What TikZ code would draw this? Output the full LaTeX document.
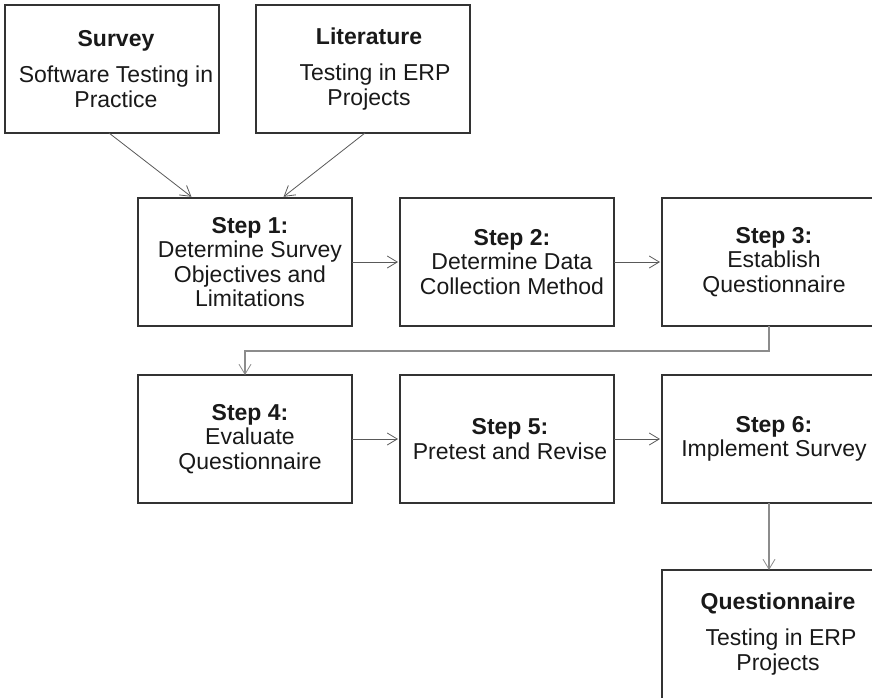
\documentclass[tikz,border=0pt]{standalone}
\usepackage{fontspec}
\setmainfont{Liberation Sans}
\usetikzlibrary{arrows.meta}
\begin{document}
\begin{tikzpicture}[x=1pt,y=-1pt,
  box/.style={draw=black!80, line width=1.2pt, minimum width=214pt, minimum height=128pt,
    inner sep=0pt, outer sep=0pt},
  edgebox/.style={box, minimum width=230pt, anchor=west},
  boxtext/.style={align=center, text=black!90, inner sep=0pt,
    font=\fontsize{23}{24.5}\selectfont},
  flow/.style={draw=black!65, line width=0.8pt,
    -{Straight Barb[length=10pt,width=12pt,line width=0.8pt]}, shorten >=2pt},
  route/.style={draw=black!45, line width=1.4pt,
    -{Straight Barb[length=10pt,width=12pt,line width=0.8pt]}}
]
\clip (0,0) rectangle (872,697);

% sources
\node[box] (sv) at (112,69) {};
\node[boxtext] (svt) at ([xshift=4pt]sv.center) {\textbf{Survey}\\[11.5pt]Software Testing in\\Practice};
\node[box] (lit) at (363,69) {};
\node[boxtext] (litt) at ([xshift=6pt]lit.center) {\textbf{Literature}\\[11.5pt]\hspace*{12pt}Testing in ERP\\Projects};

% first row of steps
\node[box] (s1) at (245,262) {};
\node[boxtext] (s1t) at ([xshift=5pt]s1.center) {\textbf{Step 1:}\\Determine Survey\\Objectives and\\Limitations};
\node[box] (s2) at (507,262) {};
\node[boxtext] (s2t) at ([xshift=5pt]s2.center) {\textbf{Step 2:}\\Determine Data\\Collection Method};
\node[edgebox] (s3) at (662,262) {};
\node[boxtext] (s3t) at (774,262) {\textbf{Step 3:}\\Establish\\Questionnaire};

% second row of steps
\node[box] (s4) at (245,439) {};
\node[boxtext] (s4t) at ([xshift=5pt]s4.center) {\textbf{Step 4:}\\Evaluate\\Questionnaire};
\node[box] (s5) at (507,439) {};
\node[boxtext] (s5t) at ([xshift=3pt]s5.center) {\textbf{Step 5:}\\Pretest and Revise};
\node[edgebox] (s6) at (662,439) {};
\node[boxtext] (s6t) at (774,439) {\textbf{Step 6:}\\Implement Survey};

% result, running past the lower edge
\node[edgebox, minimum height=136pt] (q) at (662,638) {};
\node[boxtext] (qt) at (778,634) {\textbf{Questionnaire}\\[11.5pt]\hspace*{6pt}Testing in ERP\\Projects};

% connectors
\draw[flow] ([xshift=-3pt]sv.south) -- ([xshift=-52pt]s1.north);
\draw[flow] ([xshift=2pt]lit.south) -- ([xshift=37pt]s1.north);
\draw[flow] (s1.east) -- (s2.west);
\draw[flow] (s2.east) -- (s3.west);
\draw[route] ([xshift=-8pt]s3.south) -- ++(0,25) -| (s4.north);
\draw[flow] (s4.east) -- (s5.west);
\draw[flow] (s5.east) -- (s6.west);
\draw[route] ([xshift=-8pt]s6.south) -- ([xshift=-8pt]q.north);
\end{tikzpicture}
\end{document}
